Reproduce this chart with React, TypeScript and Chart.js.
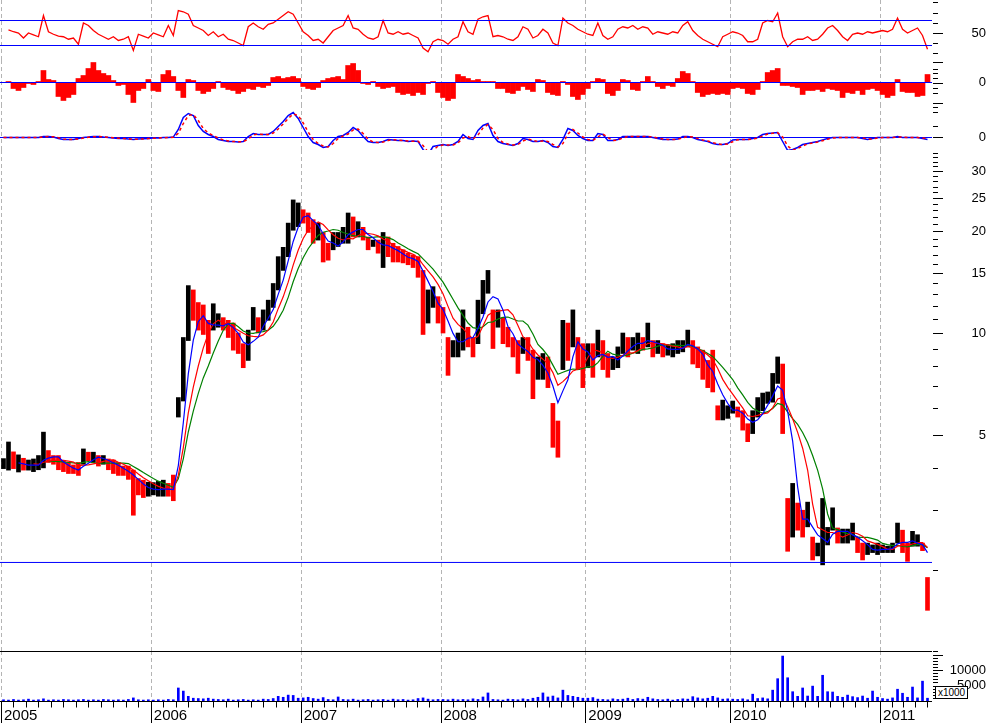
import React, { useEffect, useRef } from 'react';
import { Chart, registerables } from 'chart.js';

Chart.register(...registerables);
Chart.defaults.font.family = "'Liberation Sans', Arial, sans-serif";
Chart.defaults.color = '#000';

// ---------------- data ----------------
const yearLabels = ['2005', '2006', '2007', '2008', '2009', '2010', '2011'];
// sample index at which each year begins (boundaries sit between samples)
const yearBoundaries = [-0.5, 29.5, 59.5, 87.5, 116.5, 145.5, 175.5];
const lastYearSpan = 28;
const xMin = -0.7;
const xMax = 185.9;

const priceLow = [
  3.98, 3.94, 3.98, 3.89, 3.94, 3.94, 3.9, 3.95, 4.0, 4.15,
  4.1, 3.95, 3.9, 3.85, 3.85, 3.8, 4.1, 4.2, 4.15, 4.05,
  4.1, 3.95, 3.85, 3.8, 3.8, 3.7, 2.9, 3.33, 3.27, 3.3,
  3.33, 3.3, 3.3, 3.3, 3.2, 5.65, 6.3, 9.5, 10.9, 10.2,
  9.9, 8.7, 10.2, 10.4, 10.2, 9.7, 8.9, 8.7, 7.9, 8.3,
  10.2, 10.0, 10.2, 10.9, 11.9, 13.4, 15.3, 16.8, 20.1, 20.6,
  21.1, 19.8, 18.4, 18.8, 16.2, 16.4, 17.6, 18.0, 18.4, 18.4,
  19.2, 19.2, 18.8, 17.6, 18.0, 17.2, 15.6, 16.8, 16.2, 16.2,
  16.1, 15.9, 15.6, 14.6, 9.9, 10.7, 11.9, 10.7,
  10.0, 7.5, 8.5, 8.5, 8.9, 9.1, 8.5, 9.3, 11.4, 13.1,
  9.0, 10.4, 9.3, 9.1, 8.5, 7.6, 8.7, 8.3, 6.4, 7.3,
  7.3, 6.9, 4.6, 4.3, 7.8, 8.3, 9.1, 7.8, 6.9,
  7.9, 7.4, 8.5, 7.8, 7.4, 7.8, 7.9, 8.7, 8.5, 8.9,
  8.7, 8.9, 9.1, 8.5, 8.7, 8.5, 8.6, 8.5, 8.7, 8.8,
  9.1, 8.1, 7.9, 7.3, 6.9, 6.7, 5.54, 5.54, 5.6,
  5.8, 5.65, 5.17, 4.78, 5.05, 5.65, 5.9, 6.2, 6.25, 7.1,
  5.05, 2.27, 2.5, 2.62, 2.5, 2.68, 2.14, 2.2, 2.07, 2.37,
  2.62, 2.4, 2.4, 2.4, 2.45, 2.25, 2.14, 2.22, 2.25, 2.22,
  2.25, 2.25, 2.25, 2.4, 2.25, 2.12, 2.35, 2.35, 2.28, 1.52,
];

const priceHigh = [
  4.26, 4.77, 4.46, 4.37, 4.27, 4.22, 4.25, 4.35, 5.1, 4.5,
  4.35, 4.35, 4.2, 4.15, 4.08, 4.15, 4.55, 4.45, 4.45, 4.35,
  4.35, 4.25, 4.22, 4.15, 4.05, 4.05, 3.94, 3.72, 3.68, 3.63,
  3.62, 3.65, 3.68, 3.6, 3.81, 6.45, 9.7, 13.8, 13.4, 12.3,
  12.1, 10.9, 12.2, 11.4, 11.1, 10.9, 10.7, 10.0, 9.3, 10.2,
  11.9, 11.1, 11.7, 12.5, 14.0, 16.8, 17.9, 21.1, 24.7, 24.2,
  23.1, 22.6, 21.6, 21.1, 19.8, 18.4, 19.8, 19.8, 20.5, 22.6,
  22.0, 21.3, 20.5, 19.2, 18.8, 18.8, 19.8, 19.2, 18.4, 18.0,
  17.6, 17.2, 17.0, 16.8, 15.3, 13.4, 13.7, 12.8,
  11.9, 9.7, 9.5, 10.0, 11.7, 10.4, 9.7, 12.5, 14.3, 15.3,
  11.7, 11.7, 11.1, 10.4, 9.7, 9.5, 9.7, 9.7, 8.9, 8.5,
  8.7, 8.5, 6.2, 5.5, 10.9, 10.7, 11.7, 9.7, 9.3,
  9.3, 9.3, 10.2, 9.5, 8.7, 8.5, 9.1, 10.0, 9.7, 9.7,
  10.0, 9.7, 10.7, 9.5, 9.5, 9.3, 9.2, 9.3, 9.5, 9.5,
  10.2, 9.5, 9.1, 8.9, 8.3, 8.9, 6.1, 6.34, 6.1,
  6.3, 6.05, 5.9, 5.4, 5.9, 6.45, 6.65, 6.7, 7.6, 8.5,
  8.1, 3.25, 3.6, 3.15, 3.0, 3.17, 2.5, 2.4, 3.25, 2.67,
  3.05, 2.66, 2.64, 2.64, 2.75, 2.5, 2.4, 2.4, 2.37, 2.4,
  2.37, 2.35, 2.4, 2.75, 2.62, 2.4, 2.6, 2.54, 2.4, 1.9,
];

const priceClose = [
  4.16, 4.2, 4.1, 4.1, 4.05, 4.05, 4.1, 4.1, 4.6, 4.3,
  4.25, 4.1, 4.0, 3.95, 3.92, 3.9, 4.4, 4.3, 4.3, 4.2,
  4.25, 4.1, 4.0, 3.95, 3.9, 3.8, 3.6, 3.5, 3.45, 3.45,
  3.45, 3.45, 3.5, 3.45, 3.4, 5.9, 9.0, 12.0, 11.2, 11.0,
  10.8, 9.7, 10.8, 10.9, 10.6, 10.3, 9.7, 9.3, 8.3, 9.6,
  10.6, 10.4, 11.2, 12.0, 13.3, 15.5, 16.5, 20.0, 22.5, 23.0,
  22.3, 21.0, 19.5, 20.5, 17.5, 17.2, 18.5, 19.0, 19.5, 21.0,
  20.0, 20.3, 19.5, 18.3, 18.3, 18.0, 18.2, 18.0, 17.0, 16.8,
  16.6, 16.5, 16.4, 15.5, 12.5, 12.5, 12.5, 11.5,
  10.5, 8.9, 9.0, 9.3, 10.5, 9.8, 9.2, 11.8, 13.8, 14.6,
  11.0, 11.0, 10.2, 9.6, 9.0, 8.3, 9.2, 8.8, 7.6, 7.8,
  7.9, 7.2, 5.0, 4.8, 10.0, 9.3, 9.9, 8.5, 8.2,
  8.6, 8.0, 9.5, 8.5, 7.9, 8.2, 8.7, 9.4, 9.1, 9.3,
  9.5, 9.4, 9.8, 9.0, 9.1, 8.9, 8.9, 8.9, 9.1, 9.2,
  9.8, 8.6, 8.3, 7.9, 7.4, 7.2, 5.8, 5.9, 5.9,
  6.1, 5.8, 5.4, 5.0, 5.6, 6.2, 6.3, 6.4, 7.2, 8.0,
  5.5, 2.8, 2.9, 2.85, 2.75, 2.8, 2.3, 2.3, 2.5, 2.55,
  2.85, 2.5, 2.5, 2.55, 2.6, 2.35, 2.25, 2.3, 2.3, 2.3,
  2.3, 2.3, 2.35, 2.6, 2.4, 2.3, 2.45, 2.45, 2.3, 1.8,
];

const rsiValues = [
  null, 55, 52, 50, 42, 50, 47, 44, 78, 52, 48, 45, 44, 40, 42, 32, 66, 62, 54, 48, 44, 40, 44, 38, 40, 44, 22, 48, 45, 42,
  50, 47, 44, 62, 46, 86, 84, 80, 62, 58, 54, 46, 52, 44, 48, 40, 38, 34, 30, 60, 66, 60, 56, 64, 66, 72, 78, 84, 80, 66,
  52, 46, 38, 40, 34, 44, 54, 58, 62, 78, 58, 56, 48, 42, 40, 44, 70, 50, 48, 52, 48, 50, 46, 42, 26, 20, 36, 40,
  38, 32, 40, 44, 68, 52, 48, 72, 76, 78, 44, 46, 44, 40, 38, 44, 60, 56, 42, 46, 56, 50, 34, 30, 74, 66, 62, 56, 52,
  48, 46, 66, 46, 40, 44, 56, 60, 58, 62, 56, 60, 58, 48, 52, 50, 48, 52, 50, 62, 68, 54, 46, 40, 36, 32, 28, 44, 48,
  52, 50, 46, 36, 36, 40, 66, 70, 68, 82, 44, 28, 36, 40, 40, 44, 38, 40, 48, 58, 62, 54, 44, 38, 48, 50, 48, 52, 50, 52,
  54, 52, 56, 74, 56, 50, 54, 58, 46, 24,
];
const rsiUpper = 70;
const rsiLower = 30;

const macdHist = [
  0, 0.05, -0.3, -0.4, -0.25, -0.05, -0.1, 0.05, 0.6, 0.15, 0.1, -0.7, -0.9, -0.75, -0.6, 0.2, 0.35, 0.7, 1.0, 0.6, 0.45, 0.35, 0.1, -0.15, -0.1, -0.6, -1.0, -0.4, -0.3, 0.15,
  -0.4, -0.45, 0.4, 0.6, 0.3, -0.4, -0.75, 0.15, 0.1, -0.4, -0.55, -0.45, -0.3, 0.05, -0.25, -0.35, -0.4, -0.55, -0.45, -0.3, -0.35, -0.2, -0.25, -0.15, 0.25, 0.3, 0.2, 0.25, 0.3, 0.2,
  -0.2, -0.3, -0.35, -0.25, 0.1, 0.2, 0.25, 0.3, 0.15, 0.85, 0.95, 0.6, -0.05, -0.1, 0.05, -0.2, -0.3, -0.25, -0.2, -0.5, -0.6, -0.55, -0.65, -0.5, -0.6, -0.05, 0.05, -0.5,
  -0.75, -0.9, -0.8, 0.4, 0.3, 0.2, 0.1, 0.15, 0.05, 0.05, 0.05, -0.3, -0.3, -0.5, -0.55, -0.4, -0.2, -0.35, -0.45, 0.15, 0.1, -0.5, -0.6, -0.65, 0.05, -0.1, -0.7, -0.85, -0.6,
  -0.3, 0.05, 0.2, 0.15, -0.55, -0.65, -0.4, 0.15, 0.1, -0.35, -0.4, 0.05, 0.3, 0.05, -0.2, -0.3, -0.15, -0.2, 0.2, 0.55, 0.45, 0.05, -0.5, -0.7, -0.6, -0.55, -0.6, -0.55, -0.6,
  -0.3, -0.25, -0.3, -0.55, -0.6, -0.35, 0.05, 0.5, 0.6, 0.7, -0.15, -0.15, -0.2, -0.25, -0.6, -0.4, -0.4, -0.35, -0.45, -0.3, -0.35, -0.4, -0.75, -0.5, -0.55, -0.4, -0.6, -0.35, -0.3, -0.4,
  -0.6, -0.75, -0.65, 0.15, -0.45, -0.5, -0.5, -0.7, -0.65, 0.4,
];

const macdLine = [
  0, 0, 0, 0, 0, 0, 0, 0, 0.05, 0.05, 0.02, -0.05, -0.1, -0.1, -0.1, -0.05, 0, 0.02, 0.05, 0.05, 0.02, 0, -0.02, -0.05, -0.05, -0.08, -0.1, -0.08, -0.06, -0.05,
  -0.03, -0.02, 0, 0, 0.02, 0.4, 1.0, 1.2, 1.1, 0.6, 0.3, 0.15, 0.05, -0.1, -0.15, -0.2, -0.2, -0.22, -0.2, 0.05, 0.2, 0.15, 0.15, 0.15, 0.3, 0.55, 0.8, 1.1, 1.25, 0.95,
  0.5, 0.05, -0.25, -0.35, -0.5, -0.45, -0.15, 0.05, 0.1, 0.25, 0.5, 0.35, 0.05, -0.2, -0.25, -0.25, -0.2, -0.1, -0.12, -0.15, -0.15, -0.2, -0.18, -0.2, -0.6, -0.85, -0.45, -0.4,
  -0.35, -0.4, -0.35, -0.2, 0.15, -0.05, -0.1, 0.35, 0.6, 0.7, 0.1, -0.2, -0.3, -0.35, -0.4, -0.3, -0.05, -0.1, -0.2, -0.2, -0.15, -0.25, -0.45, -0.5, -0.1, 0.45, 0.35, 0.1, -0.05,
  -0.15, -0.15, 0.2, 0.15, -0.15, -0.15, -0.1, 0.05, 0.05, 0.05, 0.05, 0.05, 0.05, 0, -0.05, -0.1, -0.1, -0.1, -0.08, 0.05, 0.05, 0, -0.1, -0.15, -0.2, -0.3, -0.35, -0.35, -0.3,
  -0.12, -0.1, -0.1, -0.1, -0.05, 0, 0.15, 0.2, 0.22, 0.25, -0.2, -0.65, -0.6, -0.5, -0.35, -0.3, -0.25, -0.2, -0.12, -0.05, 0, 0, 0, 0, 0, 0, -0.05, -0.1, -0.05, 0,
  0, 0, 0, 0.05, 0, 0, 0, 0, -0.05, -0.1,
];

// volume in thousands of shares
const volumeK = [
  400, 300, 500, 300, 400, 600, 300, 400, 700, 300, 400, 300, 500, 400, 300, 400, 500, 300, 400, 300, 500, 400, 300, 400, 300, 500, 1000, 400, 300, 400,
  300, 400, 300, 500, 400, 4200, 3200, 1500, 900, 800, 700, 900, 600, 500, 400, 600, 300, 400, 500, 300, 400, 300, 600, 500, 800, 1500, 1200, 1900, 1800, 900,
  1000, 1200, 800, 600, 1100, 500, 400, 1300, 500, 400, 600, 300, 400, 500, 300, 400, 500, 300, 600, 400, 500, 300, 400, 800, 1000, 600, 400, 500,
  500, 400, 600, 400, 500, 400, 700, 500, 1300, 2600, 500, 400, 300, 600, 500, 400, 700, 500, 900, 1200, 2600, 1300, 1600, 1000, 3500, 1800, 1500, 1200, 900,
  900, 1100, 600, 500, 400, 700, 500, 600, 900, 500, 800, 600, 1200, 700, 500, 400, 600, 300, 500, 700, 600, 1400, 1000, 700, 900, 1500, 1000, 600, 700,
  600, 500, 700, 400, 2200, 800, 1000, 700, 3500, 7200, 14500, 7500, 3000, 1500, 4200, 1600, 4800, 1500, 8300, 3000, 2900, 1500, 1200, 1900, 1400, 1100, 1600, 900, 3200, 1200,
  800, 600, 1000, 3800, 2500, 1200, 4500, 1000, 6400, 900,
];

const supportLevel = 2.104;
const maPeriods = [4, 7, 10];

const priceLabels = [5, 10, 15, 20, 25, 30];
const volumeLabels = [5000, 10000];

// ---------------- styling ----------------
const RED = '#ff0000';
const BLUE = '#0000ff';
const GREEN = '#008000';
const BLACK = '#000000';
const AXIS_W = 54;
const PAD_R = 4;
const LABEL_SIZE = 13;

function sma(src: number[], n: number) {
  return src.map((_, i) => {
    if (i < n - 1) return null;
    let s = 0;
    for (let k = i - n + 1; k <= i; k++) s += src[k];
    return s / n;
  });
}

function textWidth(t: string, size: number) {
  const ctx = document.createElement('canvas').getContext('2d') as CanvasRenderingContext2D;
  ctx.font = `${size}px 'Liberation Sans', Arial, sans-serif`;
  return ctx.measureText(t).width;
}

const monthTicks: number[] = [];
yearBoundaries.forEach((s, k) => {
  const e = k + 1 < yearBoundaries.length ? yearBoundaries[k + 1] : s + lastYearSpan;
  for (let m = 1; m < 12; m++) {
    const v = s + (m * (e - s)) / 12;
    if (v <= xMax) monthTicks.push(v);
  }
});

const yearGridPlugin = {
  id: 'yearGrid',
  beforeDatasetsDraw(chart: any) {
    const { ctx, chartArea, scales } = chart;
    ctx.save();
    ctx.strokeStyle = '#b4b4b4';
    ctx.lineWidth = 1;
    ctx.setLineDash([4, 3]);
    yearBoundaries.forEach((v) => {
      const px = Math.round(scales.x.getPixelForValue(v)) + 0.5;
      ctx.beginPath();
      ctx.moveTo(px, chartArea.top);
      ctx.lineTo(px, chartArea.bottom);
      ctx.stroke();
    });
    ctx.restore();
  },
};

function makeSideTicks(minor: number[], major: number[]) {
  return {
    id: 'sideTicks',
    afterDraw(chart: any) {
      const { ctx, chartArea, scales } = chart;
      ctx.save();
      ctx.strokeStyle = BLACK;
      ctx.lineWidth = 1;
      const draw = (vals: number[], len: number) =>
        vals.forEach((v) => {
          const py = Math.round(scales.y.getPixelForValue(v)) + 0.5;
          if (py < chartArea.top || py > chartArea.bottom) return;
          ctx.beginPath();
          ctx.moveTo(chartArea.right + 1, py);
          ctx.lineTo(chartArea.right + 1 + len, py);
          ctx.stroke();
        });
      draw(minor, 5);
      draw(major, 10);
      ctx.restore();
    },
  };
}

const timeAxisPlugin = {
  id: 'timeAxis',
  afterDraw(chart: any) {
    const { ctx, chartArea, scales } = chart;
    const base = Math.round(chartArea.bottom) + 0.5;
    const top = Math.round(chartArea.top) + 0.5;
    const line = (x1: number, y1: number, x2: number, y2: number) => {
      ctx.beginPath();
      ctx.moveTo(x1, y1);
      ctx.lineTo(x2, y2);
      ctx.stroke();
    };
    ctx.save();
    ctx.strokeStyle = BLACK;
    ctx.lineWidth = 1;
    line(0, top, chartArea.right, top);
    line(0, base, chartArea.right, base);
    monthTicks.forEach((v) => {
      const px = Math.round(scales.x.getPixelForValue(v)) + 0.5;
      line(px, base, px, base + 6);
    });
    yearBoundaries.forEach((v) => {
      const px = Math.round(scales.x.getPixelForValue(v)) + 0.5;
      line(px, base, px, chart.height);
    });
    ctx.restore();
  },
};

function rightAxis(type: string, min: number, max: number, labels: number[], fmt: (v: number) => string) {
  const widest = Math.max(...labels.map((v) => textWidth(fmt(v), LABEL_SIZE)));
  return {
    type,
    position: 'right',
    min,
    max,
    beginAtZero: false,
    grid: { display: false, drawTicks: false },
    border: { display: false },
    afterFit: (s: any) => {
      s.width = AXIS_W;
      s.paddingTop = 0;
      s.paddingBottom = 0;
      s.paddingLeft = 0;
      s.paddingRight = 0;
    },
    afterBuildTicks: (s: any) => {
      s.ticks = labels.map((v) => ({ value: v }));
    },
    ticks: {
      crossAlign: 'far',
      padding: AXIS_W - widest,
      autoSkip: false,
      color: BLACK,
      font: { size: LABEL_SIZE },
      callback: (v: any) => fmt(Number(v)),
    },
  };
}

const hiddenX = { type: 'linear', min: xMin, max: xMax, display: false, offset: false };

function makeConfig(datasets: any[], yScale: any, plugins: any[], xScale: any = hiddenX) {
  return {
    type: 'line',
    data: { datasets },
    options: {
      responsive: false,
      animation: false,
      devicePixelRatio: 1,
      events: [],
      layout: { padding: { left: 0, right: PAD_R, top: 0, bottom: 0 } },
      plugins: { legend: { display: false }, tooltip: { enabled: false } },
      scales: { x: xScale, y: yScale },
    },
    plugins: [yearGridPlugin, ...plugins],
  };
}

function lineDs(points: any[], color: string, order: number, extra: any = {}) {
  return {
    type: 'line',
    data: points,
    borderColor: color,
    borderWidth: 1,
    pointRadius: 0,
    tension: 0,
    fill: false,
    order,
    ...extra,
  };
}

const hline = (v: number) => [
  { x: xMin, y: v },
  { x: xMax, y: v },
];

export default function App() {
  const rsiRef = useRef<HTMLCanvasElement>(null);
  const histRef = useRef<HTMLCanvasElement>(null);
  const macdRef = useRef<HTMLCanvasElement>(null);
  const priceRef = useRef<HTMLCanvasElement>(null);
  const volRef = useRef<HTMLCanvasElement>(null);

  useEffect(() => {
    document.body.style.margin = '0';
    const idx = (arr: any[]) => arr.map((y, i) => ({ x: i, y }));

    const rsiCfg = makeConfig(
      [
        lineDs(hline(rsiUpper), BLUE, 0),
        lineDs(hline(rsiLower), BLUE, 0),
        lineDs(idx(rsiValues), RED, 1, { borderWidth: 1.3 }),
      ],
      rightAxis('linear', 6.8, 102.8, [50], (v) => String(v)),
      [makeSideTicks([100, 82, 66, 34, 18], [50])]
    );

    const histCfg = makeConfig(
      [
        lineDs(hline(0), BLUE, 0),
        {
          type: 'bar',
          data: idx(macdHist),
          backgroundColor: RED,
          borderWidth: 0,
          barPercentage: 1,
          categoryPercentage: 1,
          order: 1,
        },
      ],
      rightAxis('linear', -1.075, 1.125, [0], () => '0'),
      [makeSideTicks([0.7, 0.5, 0.25, -0.25, -0.5], [0, 1.05, -1.0])]
    );

    const signal = macdLine.map((v, i) => (i === 0 ? v : (v + macdLine[i - 1]) / 2));
    const macdCfg = makeConfig(
      [
        lineDs(hline(0), BLUE, 2),
        lineDs(idx(macdLine), BLUE, 1, { borderWidth: 1.5 }),
        lineDs(idx(signal), RED, 0, { borderWidth: 1.5, borderDash: [3, 3] }),
      ],
      rightAxis('linear', -0.625, 1.675, [0], () => '0'),
      [makeSideTicks([1.5, 1.25, 0.55], [0])]
    );

    const colors = priceClose.map((c, i) => (i > 0 && c < priceClose[i - 1] ? RED : BLACK));
    const maColors = [BLUE, RED, GREEN];
    const priceMinor: number[] = [];
    for (let v = 2; v <= 34; v++) if (!priceLabels.includes(v)) priceMinor.push(v);
    const priceCfg = makeConfig(
      [
        lineDs(hline(supportLevel), BLUE, 0),
        ...maPeriods.map((p, k) => lineDs(idx(sma(priceClose, p)), maColors[k], k + 1, { borderWidth: 1.2 })),
        {
          type: 'bar',
          data: priceLow.map((lo, i) => ({ x: i, y: [lo, priceHigh[i]] })),
          backgroundColor: colors,
          borderWidth: 0,
          barThickness: 4,
          order: 10,
        },
      ],
      rightAxis('logarithmic', 1.153, 34.67, priceLabels, (v) => String(v)),
      [makeSideTicks(priceMinor, priceLabels)]
    );

    const volMinor: number[] = [];
    for (let v = 1000; v <= 16000; v += 1000) if (v % 5000 !== 0) volMinor.push(v);
    const volX = {
      type: 'linear',
      min: xMin,
      max: xMax,
      offset: false,
      position: 'bottom',
      grid: { display: false, drawTicks: false },
      border: { display: false },
      afterBuildTicks: (s: any) => {
        s.ticks = yearBoundaries.map((v) => ({ value: v }));
      },
      afterFit: (s: any) => {
        s.height = 22;
        s.paddingLeft = 0;
        s.paddingRight = 0;
        s.paddingTop = 0;
        s.paddingBottom = 0;
      },
      ticks: {
        align: 'start',
        labelOffset: 3,
        padding: 6,
        autoSkip: false,
        maxRotation: 0,
        color: BLACK,
        font: { size: 15 },
        callback: (_v: any, i: number) => yearLabels[i],
      },
    };
    const volCfg = makeConfig(
      [
        {
          type: 'bar',
          data: idx(volumeK),
          backgroundColor: BLUE,
          borderWidth: 0,
          barThickness: 2,
          order: 1,
        },
      ],
      rightAxis('linear', 0, 16130, volumeLabels, (v) => String(v)),
      [makeSideTicks(volMinor, [5000, 10000, 15000]), timeAxisPlugin],
      volX
    );

    const charts = [
      new Chart(rsiRef.current as HTMLCanvasElement, rsiCfg as any),
      new Chart(histRef.current as HTMLCanvasElement, histCfg as any),
      new Chart(macdRef.current as HTMLCanvasElement, macdCfg as any),
      new Chart(priceRef.current as HTMLCanvasElement, priceCfg as any),
      new Chart(volRef.current as HTMLCanvasElement, volCfg as any),
    ];
    return () => charts.forEach((c) => c.destroy());
  }, []);

  const cv = (top: number): React.CSSProperties => ({ position: 'absolute', left: 0, top, display: 'block' });

  return (
    <div style={{ position: 'absolute', left: 0, top: 0, width: 990, height: 723, background: '#fff', overflow: 'hidden' }}>
      <canvas ref={rsiRef} width={990} height={60} style={cv(0)} />
      <canvas ref={histRef} width={990} height={44} style={cv(60)} />
      <canvas ref={macdRef} width={990} height={46} style={cv(104)} />
      <canvas ref={priceRef} width={990} height={501} style={cv(150)} />
      <canvas ref={volRef} width={990} height={72} style={cv(651)} />
      <div
        style={{
          position: 'absolute',
          left: 935,
          top: 686,
          width: 31,
          height: 11,
          border: '1px solid #000',
          background: '#fff',
          fontFamily: "'Liberation Sans', Arial, sans-serif",
          fontSize: 10,
          lineHeight: '11px',
          textAlign: 'center',
          color: '#000',
        }}
      >
        x1000
      </div>
    </div>
  );
}
